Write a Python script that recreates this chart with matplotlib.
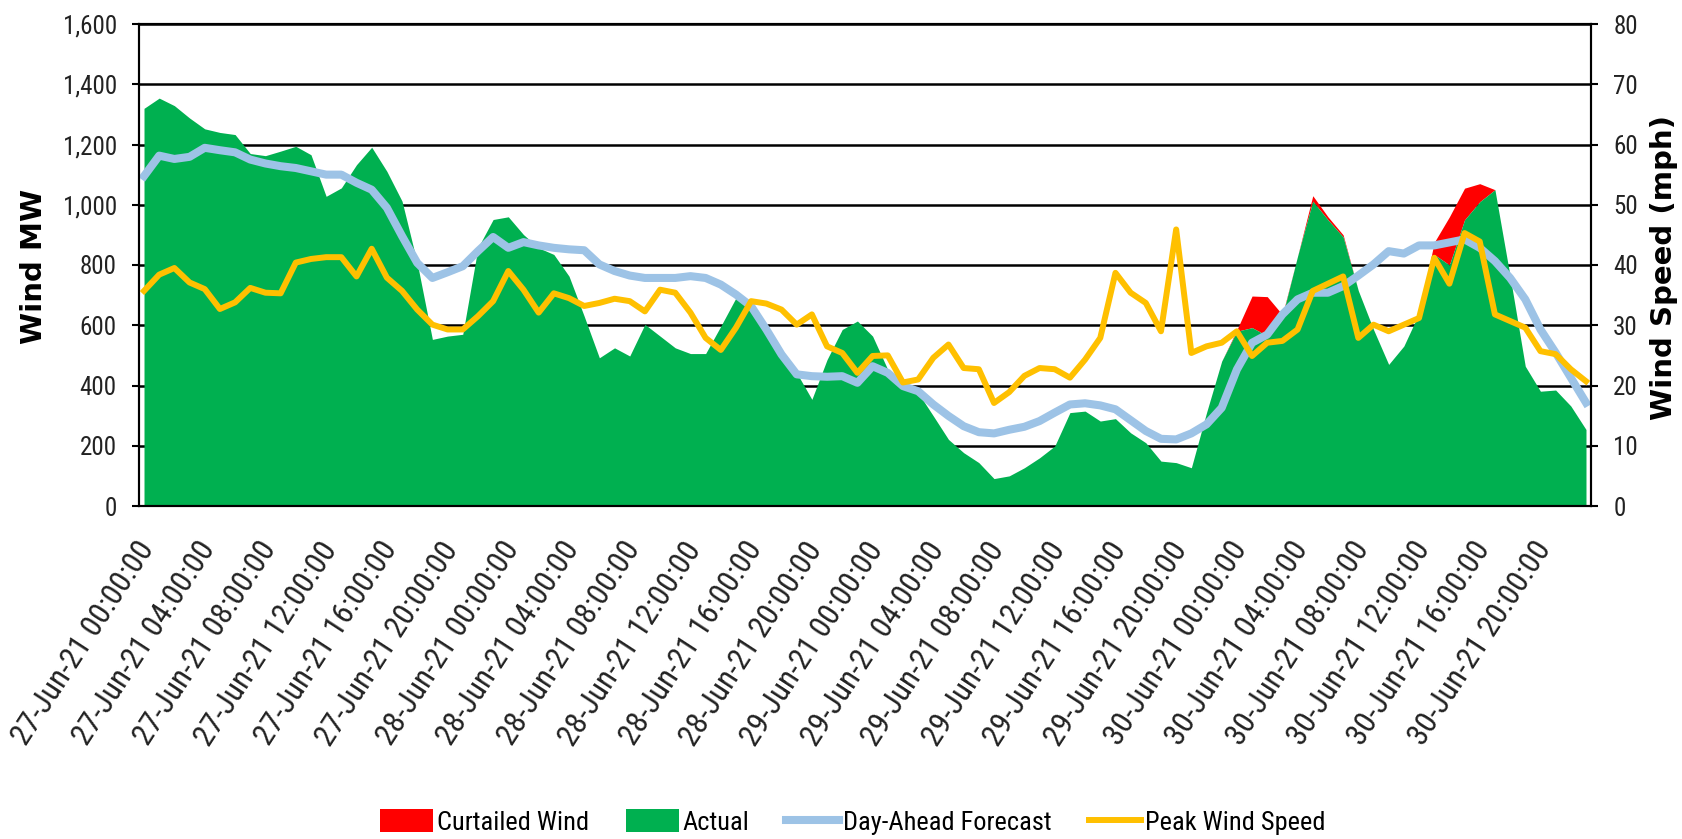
import matplotlib
matplotlib.use("Agg")
import matplotlib.pyplot as plt
import numpy as np
import pandas as pd
from matplotlib import font_manager
from matplotlib.lines import Line2D
from matplotlib.patches import Patch
from matplotlib.ticker import FuncFormatter
from matplotlib.transforms import ScaledTranslation

# hourly data, 27-Jun-21 00:00 .. 30-Jun-21 23:00
TIMES = pd.date_range("2021-06-27 00:00", periods=96, freq="h")

ACTUAL_MW = [
    1320, 1354, 1329, 1288, 1252, 1240, 1233, 1170, 1163, 1178, 1194, 1166,
    1028, 1056, 1133, 1191, 1111, 1012, 807, 553, 564, 570, 857, 951,
    960, 901, 857, 835, 763, 630, 492, 525, 498, 603, 564, 525,
    506, 506, 597, 691, 663, 586, 503, 442, 354, 486, 586, 614,
    564, 453, 409, 376, 299, 221, 177, 144, 91, 100, 127, 160,
    199, 310, 315, 282, 290, 243, 210, 149, 144, 127, 310, 481,
    580, 592, 565, 630, 830, 1012, 950, 893, 715, 586, 470, 531,
    640, 835, 800, 950, 1010, 1050, 763, 464, 381, 385, 332, 254,
]
CURTAILED_MW = [
    0, 0, 0, 0, 0, 0, 0, 0, 0, 0, 0, 0,
    0, 0, 0, 0, 0, 0, 0, 0, 0, 0, 0, 0,
    0, 0, 0, 0, 0, 0, 0, 0, 0, 0, 0, 0,
    0, 0, 0, 0, 0, 0, 0, 0, 0, 0, 0, 0,
    0, 0, 0, 0, 0, 0, 0, 0, 0, 0, 0, 0,
    0, 0, 0, 0, 0, 0, 0, 0, 0, 0, 0, 0,
    5, 105, 130, 5, 0, 18, 10, 7, 0, 0, 0, 0,
    0, 40, 160, 105, 60, 0, 0, 0, 0, 0, 0, 0,
]
FORECAST_MW = [
    1095, 1163, 1152, 1159, 1189, 1181, 1174, 1150, 1137, 1128, 1122, 1111,
    1100, 1100, 1073, 1050, 990, 896, 807, 757, 776, 796, 846, 893,
    857, 876, 865, 857, 852, 849, 802, 780, 765, 757, 757, 757,
    763, 757, 735, 702, 663, 586, 503, 437, 431, 429, 431, 409,
    464, 442, 398, 381, 337, 299, 265, 245, 241, 253, 263, 282,
    310, 337, 341, 334, 321, 285, 249, 223, 221, 241, 271, 326,
    453, 542, 569, 636, 686, 708, 708, 730, 765, 802, 846, 838,
    865, 865, 875, 885, 857, 813, 757, 686, 586, 509, 426, 343,
]
PEAK_SPEED_MPH = [
    35.7, 38.4, 39.5, 37.1, 36.0, 32.7, 33.8, 36.2, 35.4, 35.3, 40.4, 41.0,
    41.3, 41.3, 38.1, 42.7, 37.9, 35.7, 32.6, 30.1, 29.3, 29.3, 31.5, 34.0,
    39.0, 35.9, 32.1, 35.3, 34.5, 33.2, 33.7, 34.4, 34.0, 32.3, 35.9, 35.4,
    32.1, 27.9, 25.9, 29.6, 34.0, 33.6, 32.6, 30.1, 31.8, 26.5, 25.4, 22.1,
    24.9, 25.0, 20.5, 21.0, 24.6, 26.8, 22.9, 22.7, 17.1, 18.9, 21.6, 22.9,
    22.7, 21.3, 24.3, 27.9, 38.7, 35.4, 33.7, 29.0, 45.9, 25.4, 26.5, 27.1,
    29.0, 24.9, 27.1, 27.4, 29.3, 35.7, 36.9, 38.1, 27.9, 30.1, 29.0, 30.1,
    31.2, 41.2, 36.9, 45.3, 43.9, 31.8, 30.7, 29.6, 25.7, 25.2, 22.7, 20.7,
]

RED, GREEN, BLUE, GOLD = "#FF0000", "#00B050", "#9DC3E6", "#FFC000"


def first_font(names):
    for name in names:
        try:
            font_manager.findfont(name, fallback_to_default=False)
            return name
        except ValueError:
            continue
    return "DejaVu Sans"


# narrow face for the ticks/legend (Calibri-like in the original)
NARROW = first_font(["Liberation Sans Narrow", "DejaVu Sans Condensed",
                     "Roboto Condensed", "Liberation Sans", "Arial"])
BOLD = "DejaVu Sans"

W, H = 1682, 839
fig = plt.figure(figsize=(W / 100, H / 100), dpi=100)
ax = fig.add_axes([139 / W, 1 - 506 / H, (1591 - 139) / W, (506 - 24) / H])

x = np.arange(len(TIMES))
actual = np.array(ACTUAL_MW, dtype=float)
curtailed = np.array(CURTAILED_MW, dtype=float)

ax.fill_between(x, actual, actual + curtailed, color=RED, lw=0, zorder=2)
ax.fill_between(x, 0, actual, color=GREEN, lw=0, zorder=2)
ax.plot(x, FORECAST_MW, color=BLUE, lw=5.8, solid_joinstyle="round", zorder=3)

ax.set_xlim(-0.33, len(x) - 1 + 0.33)
ax.set_ylim(0, 1600)
ax.set_yticks(range(0, 1601, 200))
ax.yaxis.set_major_formatter(FuncFormatter(lambda v, p: f"{v:,.0f}"))
ax.set_axisbelow(True)
ax.grid(axis="y", color="black", lw=1.8)

ax.set_xticks(x[::4])
ax.set_xticklabels([t.strftime("%d-%b-%y %H:%M:%S") for t in TIMES[::4]],
                   rotation=57, ha="right", va="top", rotation_mode="anchor",
                   family=NARROW, fontsize=22.5, color="#222222")
ax.tick_params(axis="x", length=0, pad=22)
shift = ScaledTranslation(-8 / 100, 0, fig.dpi_scale_trans)
for lab in ax.get_xticklabels():
    lab.set_transform(lab.get_transform() + shift)
ax.tick_params(axis="y", direction="out", length=5, width=1.5, pad=11,
               labelsize=18, labelcolor="#222222")
for lab in ax.get_yticklabels():
    lab.set_family(NARROW)
for side in ax.spines.values():
    side.set_linewidth(1.5)

ax2 = ax.twinx()
ax2.plot(x, PEAK_SPEED_MPH, color=GOLD, lw=4.3, solid_joinstyle="round", zorder=4)
ax2.set_ylim(0, 80)
ax2.set_yticks(range(0, 81, 10))
ax2.tick_params(axis="y", direction="out", length=5, width=1.5, pad=11,
                labelsize=18, labelcolor="#222222")
for lab in ax2.get_yticklabels():
    lab.set_family(NARROW)
for side in ax2.spines.values():
    side.set_linewidth(1.5)

fig.text(34 / W, 1 - 266 / H, "Wind MW", rotation=90, ha="center", va="center",
         family=BOLD, fontsize=21, fontweight="bold")
fig.text(1664 / W, 1 - 268 / H, "Wind Speed (mph)", rotation=90, ha="center",
         va="center", family=BOLD, fontsize=21, fontweight="bold")

handles = [
    Patch(facecolor=RED, edgecolor="none"),
    Patch(facecolor=GREEN, edgecolor="none"),
    Line2D([], [], color=BLUE, lw=5.8),
    Line2D([], [], color=GOLD, lw=4.3),
]
names = ["Curtailed Wind", "Actual", "Day-Ahead Forecast", "Peak Wind Speed"]
fig.legend(handles, names, loc="center", bbox_to_anchor=(853 / W, 1 - 822 / H),
           ncol=4, frameon=False, prop={"family": NARROW, "size": 19},
           handlelength=2.0, handleheight=0.95, handletextpad=0.15,
           columnspacing=1.4, borderaxespad=0, borderpad=0)

fig.savefig("out.png", dpi=100)
